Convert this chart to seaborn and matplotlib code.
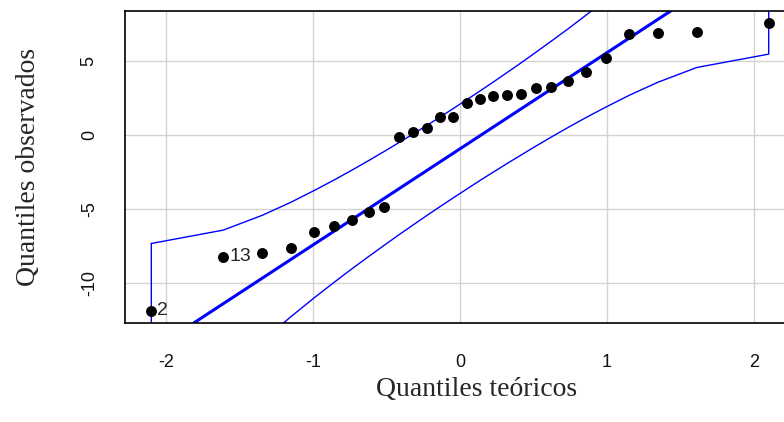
import matplotlib
matplotlib.use("Agg")
import matplotlib.pyplot as plt
import seaborn as sns
import pandas as pd

# ---- data ----
theoretical = [-2.100, -1.611, -1.345, -1.150, -0.992, -0.854, -0.732, -0.619, -0.514, -0.415,
               -0.319, -0.225, -0.135, -0.045, 0.045, 0.135, 0.225, 0.319, 0.415, 0.514,
               0.619, 0.732, 0.854, 0.992, 1.150, 1.345, 1.611, 2.100]
observed = [-11.84, -8.22, -7.93, -7.61, -6.51, -6.13, -5.75, -5.21, -4.85, -0.16,
            0.20, 0.47, 1.23, 1.23, 2.14, 2.43, 2.61, 2.70, 2.79, 3.15,
            3.26, 3.64, 4.27, 5.19, 6.83, 6.89, 6.96, 7.55]
upper = [-7.31, -6.41, -5.41, -4.53, -3.74, -3.02, -2.35, -1.71, -1.10, -0.51,
         0.07, 0.65, 1.21, 1.79, 2.37, 2.96, 3.56, 4.20, 4.86, 5.56,
         6.31, 7.13, 8.05, 9.11, 10.38, 12.03, 14.47, 19.90]
lower = [-21.76, -16.33, -13.89, -12.24, -10.97, -9.91, -8.99, -8.17, -7.42, -6.72,
         -6.06, -5.42, -4.82, -4.23, -3.65, -3.07, -2.51, -1.93, -1.35, -0.76,
         -0.15, 0.49, 1.16, 1.88, 2.67, 3.55, 4.55, 5.45]
line_intercept = -0.93
line_slope = 6.48
point_labels = {0: "2", 1: "13"}
x_ticks = [-2, -1, 0, 1, 2]
y_ticks = [-10, -5, 0, 5]
x_label = "Quantiles teóricos"
y_label = "Quantiles observados"

df = pd.DataFrame({"z": theoretical, "y": observed})

sns.set_style("white")
plt.rcParams["font.family"] = ["Liberation Sans", "DejaVu Sans"]

W, H = 784, 422
fig = plt.figure(figsize=(W / 100, H / 100), dpi=100)
left_px, right_px, top_px, bottom_px = 125, 830, 10.7, 322.7
ax = fig.add_axes([left_px / W, (H - bottom_px) / H, (right_px - left_px) / W, (bottom_px - top_px) / H])

ax.set_xlim(-2.279, 2.517)
ax.set_ylim(-12.648, 8.376)

# grid
for xv in x_ticks:
    ax.axvline(xv, color="#D3D3D3", lw=1.0, zorder=0)
for yv in y_ticks:
    ax.axhline(yv, color="#D3D3D3", lw=1.0, zorder=0)

# envelope polygon
env_x = theoretical + theoretical[::-1] + [theoretical[0]]
env_y = upper + lower[::-1] + [upper[0]]
ax.plot(env_x, env_y, color="blue", lw=1.0, zorder=2)

# reference line
ax.axline((0, line_intercept), slope=line_slope, color="blue", lw=2.2, zorder=2)

# points
sns.scatterplot(data=df, x="z", y="y", ax=ax, color="black", s=62, edgecolor="black",
                linewidth=0, zorder=3, legend=False)

for idx, lab in point_labels.items():
    ax.annotate(lab, (theoretical[idx], observed[idx]), xytext=(4.3, 0),
                textcoords="offset points", ha="left", va="center",
                fontsize=14, family="Liberation Sans", zorder=4)

ax.set_xticks(x_ticks)
ax.set_yticks(y_ticks)
ax.set_xticklabels([str(t) for t in x_ticks])
ax.set_yticklabels([str(t) for t in y_ticks], rotation=90, va="center")
ax.tick_params(axis="both", direction="out", length=8.6, width=0.8, color="black",
               labelsize=13, labelcolor="#111111")
ax.tick_params(axis="x", pad=14)
ax.tick_params(axis="y", pad=11)

for sp in ax.spines.values():
    sp.set_color("black")
    sp.set_linewidth(1.2)
    sp.set_visible(True)

ax.set_xlabel(x_label, fontsize=20, family="Liberation Serif", va="center")
ax.set_ylabel(y_label, fontsize=20, family="Liberation Serif", va="center")
ax.xaxis.set_label_coords((477 - left_px) / (right_px - left_px), (bottom_px - 389) / (bottom_px - top_px))
ax.yaxis.set_label_coords((29 - left_px) / (right_px - left_px), 0.5)

fig.savefig("out.png", dpi=100)
